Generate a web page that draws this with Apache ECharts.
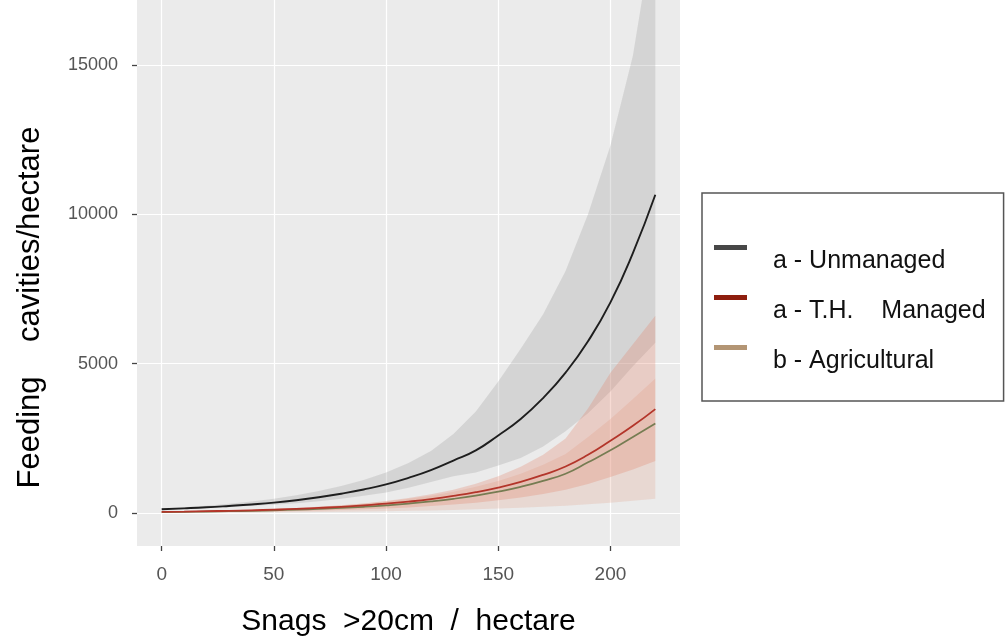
<!DOCTYPE html>
<html>
<head>
<meta charset="utf-8">
<script src="https://cdn.jsdelivr.net/npm/echarts@6/dist/echarts.min.js"></script>
<style>
html, body { margin: 0; padding: 0; background: #ffffff; }
#figure { width: 1005px; height: 642px; }
</style>
</head>
<body>
<div id="figure"></div>
<script>
// values, every 10 snags/ha
let snags = [0, 10, 20, 30, 40, 50, 60, 70, 80, 90, 100, 110, 120, 130, 140, 150, 160, 170, 180, 190, 200, 210, 220];

let unmanaged = [130, 160, 195, 240, 290, 350, 430, 530, 650, 790, 960, 1180, 1440, 1760, 2100, 2600, 3150, 3850, 4700, 5750, 7050, 8700, 10650];
let unmanaged_low = [112, 138, 168, 205, 245, 280, 330, 400, 480, 580, 690, 850, 1040, 1230, 1360, 1590, 1840, 2230, 2740, 3340, 4070, 4910, 5700];
let unmanaged_high = [160, 200, 250, 310, 390, 480, 600, 740, 910, 1110, 1360, 1680, 2080, 2650, 3400, 4400, 5500, 6650, 8100, 10000, 12300, 15300, 19900];

let managed = [45, 52, 64, 78, 95, 115, 140, 175, 210, 260, 315, 385, 470, 575, 700, 855, 1045, 1280, 1560, 1950, 2420, 2920, 3480];
let managed_low = [22, 26, 32, 39, 48, 58, 70, 88, 105, 130, 158, 192, 235, 288, 350, 428, 522, 640, 780, 975, 1210, 1460, 1740];
let managed_high = [55, 65, 78, 95, 115, 140, 172, 212, 262, 325, 405, 505, 630, 785, 980, 1230, 1550, 1950, 2500, 3500, 4700, 5650, 6600];

let agri = [34, 42, 51, 63, 76, 94, 115, 141, 173, 212, 260, 318, 390, 478, 586, 718, 880, 1080, 1320, 1700, 2100, 2550, 3000];
let agri_low = [10, 12, 14, 17, 20, 25, 30, 36, 43, 52, 63, 76, 90, 108, 128, 152, 180, 212, 250, 300, 350, 410, 480];
let agri_high = [50, 62, 76, 94, 114, 140, 172, 210, 258, 318, 390, 477, 585, 717, 880, 1077, 1320, 1620, 1980, 2550, 3150, 3820, 4500];

let x_ticks = [0, 50, 100, 150, 200];
let y_ticks = [0, 5000, 10000, 15000];
let legend_names = ['a - Unmanaged', 'a - T.H.    Managed', 'b - Agricultural'];
let legend_colors = ['#474747', '#8e1e0e', '#b39574'];

// bar at the top of the icon box, so the label sits lower than the bar
let legend_icon = 'path://M0,0 H33 V5 H0 Z M0,33 H0.01 V33.01 H0 Z';

function pairs(xs, ys) {
    let out = [];
    for (let i = 0; i < xs.length; i++) {
        out.push([xs[i], ys[i]]);
    }
    return out;
}

function band(low, high, color) {
    let rows = [];
    for (let i = 0; i < snags.length; i++) {
        rows.push([snags[i], low[i], high[i]]);
    }
    return {
        type: 'custom', silent: true, clip: true,
        encode: { x: 0, y: [1, 2] },
        data: rows,
        renderItem: function (params, api) {
            if (params.dataIndex !== 0) {
                return;
            }
            let points = [];
            for (let i = 0; i < rows.length; i++) {
                points.push(api.coord([rows[i][0], rows[i][2]]));
            }
            for (let i = rows.length - 1; i >= 0; i--) {
                points.push(api.coord([rows[i][0], rows[i][1]]));
            }
            return { type: 'polygon', shape: { points: points }, style: { fill: color } };
        }
    };
}

function curve(name, values, color, width) {
    return {
        name: name, type: 'line', symbol: 'none', smooth: true,
        lineStyle: { color: color, width: width },
        itemStyle: { color: color },
        data: pairs(snags, values)
    };
}

let series = [
    band(unmanaged_low, unmanaged_high, 'rgba(150,150,150,0.27)'),
    band(agri_low, agri_high, 'rgba(225,150,125,0.22)'),
    band(managed_low, managed_high, 'rgba(225,125,100,0.28)'),
    curve(legend_names[2], agri, '#767c52', 1.7),
    curve(legend_names[1], managed, '#b3352a', 1.8),
    curve(legend_names[0], unmanaged, '#1e1e1e', 1.9)
];

let legend_data = [];
for (let i = 0; i < legend_names.length; i++) {
    legend_data.push({ name: legend_names[i], icon: legend_icon, itemStyle: { color: legend_colors[i] } });
}

let figure = document.getElementById('figure');
let myChart = echarts.init(figure, null, { renderer: 'canvas' });
myChart.setOption({
    animation: false,
    backgroundColor: '#ffffff',
    textStyle: { fontFamily: 'Liberation Sans' },
    grid: {
        left: 137, right: 325, top: 0, bottom: 94,
        show: true, backgroundColor: '#ebebeb', borderWidth: 0
    },
    legend: {
        orient: 'vertical', left: 702, top: 193,
        data: legend_data,
        itemWidth: 33, itemHeight: 33, itemGap: 17,
        padding: [52, 18, 23, 12],
        borderColor: '#555555', borderWidth: 1.5,
        selectedMode: false,
        textStyle: { fontSize: 25, color: '#111111', padding: [0, 0, 0, 21] }
    },
    xAxis: {
        type: 'value', min: -11, max: 231, minInterval: 25, maxInterval: 25,
        name: 'Snags  >20cm  /  hectare', nameLocation: 'middle', nameGap: 61,
        nameTextStyle: { fontSize: 30, color: '#000000' },
        axisLine: { show: false, onZero: false },
        axisTick: { show: true, customValues: x_ticks, length: 5, lineStyle: { color: '#444444', width: 1.3 } },
        axisLabel: { customValues: x_ticks, margin: 19, fontSize: 19, color: '#555555' },
        splitLine: { show: true, lineStyle: { color: '#ffffff', width: 1.2 } }
    },
    yAxis: {
        type: 'value', min: -1100, max: 17167, minInterval: 2500, maxInterval: 2500,
        name: 'Feeding    cavities/hectare', nameLocation: 'middle', nameGap: 91,
        nameRotate: 90,
        nameTextStyle: { fontSize: 31, color: '#000000', padding: [0, 69, 0, 0] },
        axisLine: { show: false, onZero: false },
        axisTick: { show: true, customValues: y_ticks, length: 5, lineStyle: { color: '#444444', width: 1.3 } },
        axisLabel: {
            customValues: y_ticks, margin: 19, fontSize: 18, color: '#555555',
            formatter: function (v) { return String(v); }
        },
        splitLine: { show: true, lineStyle: { color: '#ffffff', width: 1.2 } }
    },
    series: series
});
</script>
</body>
</html>
